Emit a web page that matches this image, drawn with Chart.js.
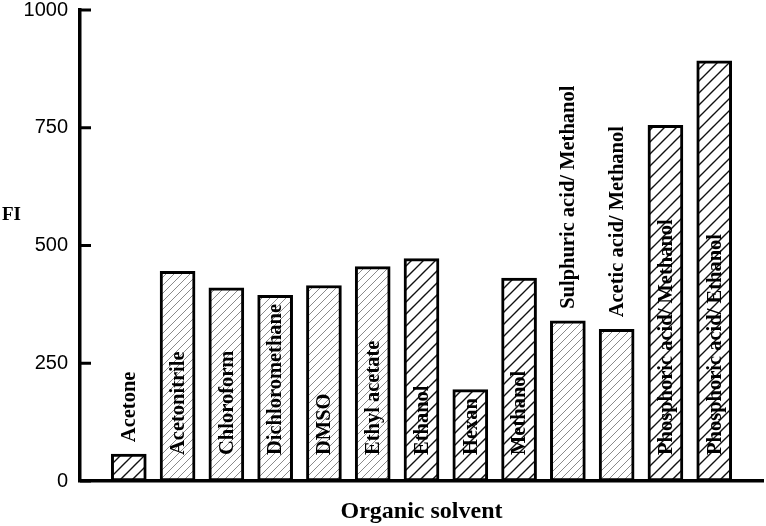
<!DOCTYPE html>
<html>
<head>
<meta charset="utf-8">
<script src="https://cdn.jsdelivr.net/npm/chart.js@4.4.0/dist/chart.umd.min.js"></script>
<style>
  html, body { margin: 0; padding: 0; background: #fff; }
  #wrap { width: 766px; height: 526px; }
</style>
</head>
<body>
<div id="wrap"><canvas id="c"></canvas></div>
<script>
// Valeurs (FI par solvant organique)
const solvents = [
  "Acetone", "Acetonitrile", "Chloroform", "Dichloromethane", "DMSO",
  "Ethyl acetate", "Ethanol", "Hexan", "Methanol",
  "Sulphuric acid/ Methanol", "Acetic acid/ Methanol",
  "Phosphoric acid/ Methanol", "Phosphoric acid/ Ethanol"
];
const fiValues = [57, 445, 410, 394, 415, 455, 472, 194, 431, 340, 322, 755, 892];
const yTicks = [0, 250, 500, 750, 1000];

// Style : hachures fines grises vs hachures noires espacées
const fineHatch = ["Acetonitrile", "Chloroform", "Dichloromethane", "DMSO",
  "Ethyl acetate", "Sulphuric acid/ Methanol", "Acetic acid/ Methanol"];
// Étiquettes posées au-dessus de la barre plutôt que dedans
const labelsAbove = ["Acetone", "Sulphuric acid/ Methanol", "Acetic acid/ Methanol"];

function hatch(size, color, width) {
  const p = document.createElement("canvas");
  p.width = size; p.height = size;
  const g = p.getContext("2d");
  g.fillStyle = "#fff";
  g.fillRect(0, 0, size, size);
  g.strokeStyle = color;
  g.lineWidth = width;
  g.beginPath();
  g.moveTo(0, size); g.lineTo(size, 0);
  g.moveTo(-size / 2, size / 2); g.lineTo(size / 2, -size / 2);
  g.moveTo(size / 2, size * 1.5); g.lineTo(size * 1.5, size / 2);
  g.stroke();
  return g.createPattern(p, "repeat");
}
const ctx = document.getElementById("c").getContext("2d");
const thin = hatch(8, "#8a8a8a", 1);
const bold = hatch(12, "#111", 1.4);

const points = fiValues.map((v, i) => ({ x: i + 1, y: v }));

// Traits de graduation vers l'intérieur + étiquettes verticales + "FI"
const deco = {
  id: "deco",
  afterDatasetsDraw(chart) {
    const c = chart.ctx;
    const y = chart.scales.y;
    const left = chart.chartArea.left;
    c.save();
    c.strokeStyle = "#000";
    c.lineWidth = 3;
    yTicks.forEach((t) => {
      const py = y.getPixelForValue(t);
      c.beginPath();
      c.moveTo(left, py);
      c.lineTo(left + 11, py);
      c.stroke();
    });

    c.fillStyle = "#000";
    c.font = "bold 20.5px 'Liberation Serif'";
    c.textBaseline = "middle";
    c.textAlign = "left";
    chart.getDatasetMeta(0).data.forEach((bar, i) => {
      const name = solvents[i];
      const start = labelsAbove.includes(name) ? bar.y - 12 : bar.base - 26;
      c.save();
      c.translate(bar.x, start);
      c.rotate(-Math.PI / 2);
      c.fillText(name, 0, 1);
      c.restore();
    });

    c.font = "bold 19px 'Liberation Serif'";
    c.textAlign = "left";
    c.fillText("FI", 2, y.getPixelForValue(565));
    c.restore();
  },
};

new Chart(ctx, {
  type: "bar",
  data: {
    datasets: [{
      data: points,
      backgroundColor: solvents.map((s) => (fineHatch.includes(s) ? thin : bold)),
      borderColor: "#000",
      borderWidth: 3,
      borderSkipped: false,
      barThickness: 35,
    }],
  },
  options: {
    responsive: true,
    maintainAspectRatio: false,
    animation: false,
    layout: { padding: { top: 10, right: 3 } },
    plugins: { legend: { display: false }, tooltip: { enabled: false } },
    scales: {
      x: {
        type: "linear",
        min: 0,
        max: solvents.length + 1,
        offset: false,
        ticks: { display: false },
        grid: { display: false, drawTicks: false },
        border: { display: true, color: "#000", width: 3.5 },
        title: {
          display: true,
          text: "Organic solvent",
          color: "#000",
          font: { family: "'Liberation Serif'", size: 24, weight: "bold" },
          padding: { top: 0, bottom: 0 },
        },
        afterFit: (s) => { s.height = 45; s.paddingLeft = 0; s.paddingRight = 0; },
      },
      y: {
        min: 0,
        max: 1000,
        afterBuildTicks: (s) => { s.ticks = yTicks.map((v) => ({ value: v })); },
        ticks: {
          color: "#000",
          padding: 12,
          font: { family: "'Liberation Sans'", size: 20 },
          callback: (v) => String(v),
        },
        grid: { display: false, drawTicks: false },
        border: { display: true, color: "#000", width: 3.5 },
        afterFit: (s) => { s.width = 80; s.paddingTop = 0; s.paddingBottom = 0; },
      },
    },
  },
  plugins: [deco],
});
</script>
</body>
</html>
